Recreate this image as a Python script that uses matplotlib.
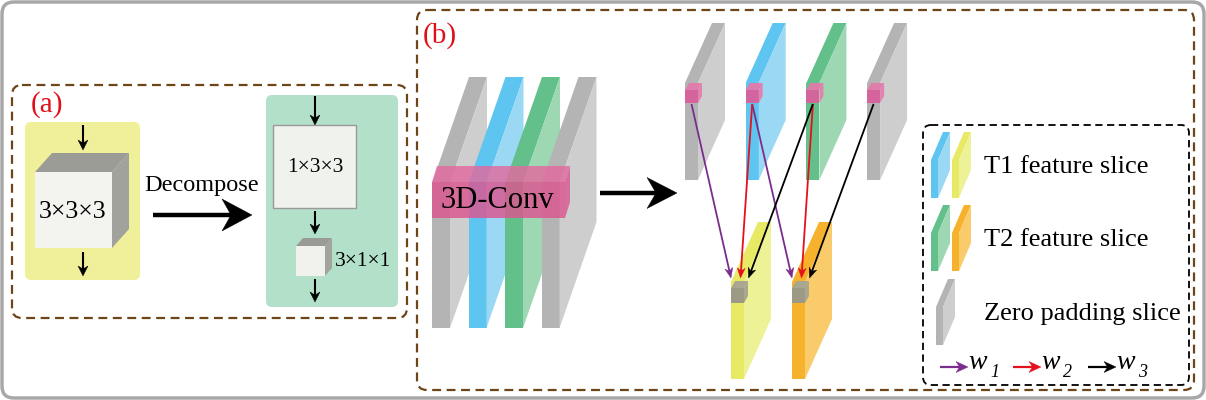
import numpy as np
import matplotlib.pyplot as plt
from matplotlib.patches import FancyBboxPatch, Polygon, Rectangle

plt.rcParams['font.family'] = ['Liberation Serif', 'DejaVu Serif']

# --- content of the figure ---
stack_slices = ['gray', 'blue', 'green', 'gray']      # input slices (left stack and top row)
out_slices = ['yellow', 'orange']                     # fused output slices
links = [(0, 0, 'w1'), (1, 1, 'w1'), (1, 0, 'w2'),
         (2, 1, 'w2'), (2, 0, 'w3'), (3, 1, 'w3')]    # (input slice, output slice, weight)
weights = ['w1', 'w2', 'w3']
weight_subs = ['1', '2', '3']
legend_labels = ['T1 feature slice', 'T2 feature slice', 'Zero padding slice']
legend_slices = [['blue', 'yellow'], ['green', 'orange'], ['gray']]
kernel_labels = ['3×3×3', '1×3×3', '3×1×1']

slice_colors = {'gray': ('#b4b4b4', '#cdcecd'), 'blue': ('#5ec4f0', '#9ad8f4'),
                'green': ('#63c08a', '#9dd8b3'), 'yellow': ('#e8ea66', '#eef297'),
                'orange': ('#f6b22c', '#f9cb6a')}
weight_colors = {'w1': '#7b2c8c', 'w2': '#e5101c', 'w3': '#000000'}
BROWN = '#6e4516'

fig = plt.figure(figsize=(12.06, 4), dpi=100)
ax = fig.add_axes([0, 0, 1, 1])
ax.set_xlim(0, 1206)
ax.set_ylim(400, 0)
ax.axis('off')


def rbox(x0, y0, x1, y1, r, **kw):
    p = FancyBboxPatch((x0, y0), x1 - x0, y1 - y0,
                       boxstyle='round,pad=0,rounding_size=%g' % r, **kw)
    ax.add_patch(p)


def slab(x, y, w, h, dx, dy, dark, light, z=2, alpha=1.0, top=None):
    # front face, top face, right face of a thin block
    top = dark if top is None else top
    ax.add_patch(Polygon([(x, y), (x + w, y), (x + w, y + h), (x, y + h)],
                         closed=True, fc=dark, ec='none', zorder=z, alpha=alpha))
    ax.add_patch(Polygon([(x, y), (x + dx, y - dy), (x + w + dx, y - dy), (x + w, y)],
                         closed=True, fc=top, ec='none', zorder=z, alpha=alpha))
    ax.add_patch(Polygon([(x + w, y), (x + w + dx, y - dy), (x + w + dx, y + h - dy), (x + w, y + h)],
                         closed=True, fc=light, ec='none', zorder=z, alpha=alpha))


def stealth(x0, y0, x1, y1, color='k', lw=1.5, hl=9, hw=9, z=5):
    d = np.array([x1 - x0, y1 - y0], float)
    d /= np.hypot(*d)
    n = np.array([-d[1], d[0]])
    tip = np.array([x1, y1], float)
    back = tip - d * hl
    notch = tip - d * hl * 0.7
    ax.plot([x0, notch[0]], [y0, notch[1]], color=color, lw=lw, zorder=z,
            solid_capstyle='butt')
    ax.add_patch(Polygon([tip, back + n * hw / 2, notch, back - n * hw / 2],
                         closed=True, fc=color, ec=color, lw=0.3, zorder=z))


# outer frame and panel frames
rbox(2, 2, 1204, 398, 12, fc='white', ec='#a8a8a8', lw=2.5, zorder=0)
rbox(12, 85, 407, 318, 10, fc='none', ec=BROWN, lw=1.6, ls=(0, (4, 2.5)), zorder=1)
rbox(417, 10, 1194, 390, 10, fc='none', ec=BROWN, lw=1.6, ls=(0, (4, 2.5)), zorder=1)
ax.text(47, 105, '(a)', color='#e0101a', fontsize=21, ha='center', va='center')
ax.text(440, 36, '(b)', color='#e0101a', fontsize=21, ha='center', va='center')

# ---------- panel (a) ----------
rbox(25, 122, 140, 280, 6, fc='#f0f09a', ec='none', zorder=1)
slab(35, 172, 77, 76, 17, 19, '#f3f4ef', '#a2a29c', top='#9c9c97')
ax.text(73, 212, kernel_labels[0], fontsize=18.5, ha='center', va='center', zorder=3)
stealth(83, 125, 83, 150, lw=1.5, hl=10, hw=10)
stealth(83, 252, 83, 276, lw=1.5, hl=10, hw=10)

ax.text(202, 185, 'Decompose', fontsize=17.5, ha='center', va='center')
stealth(153, 215, 252, 215, lw=3.2, hl=30, hw=32)

rbox(266, 95, 398, 307, 6, fc='#b3e0c9', ec='none', zorder=1)
ax.add_patch(Rectangle((273, 125), 83, 83, fc='#f0f2ee', ec='#9a9a9a', lw=1, zorder=2))
ax.text(315, 168, kernel_labels[1], fontsize=15.5, ha='center', va='center', zorder=3)
slab(296, 246, 29, 30, 7, 8, '#f1f2ee', '#a4a49e', top='#9b9b96')
ax.text(335, 261, kernel_labels[2], fontsize=15.5, ha='left', va='center', zorder=3)
stealth(315, 96, 315, 125, lw=1.5, hl=10, hw=10)
stealth(315, 211, 315, 234, lw=1.5, hl=10, hw=10)
stealth(315, 279, 315, 302, lw=1.5, hl=10, hw=10)

# ---------- panel (b): input stack with 3D conv ----------
for i, s in enumerate(stack_slices):
    dark, light = slice_colors[s]
    slab(432 + i * 36.5, 183, 18, 145, 37, 106, dark, light, z=2 + i * 0.1)
slab(432, 182, 133, 36, 5, 16, '#dc5590', '#d95a93', z=3, alpha=0.82, top='#e26a9f')
ax.text(497, 201, '3D-Conv', fontsize=22, ha='center', va='center', zorder=4)
stealth(600, 193, 677, 193, lw=3.2, hl=30, hw=31)

# top row of slices with pink kernel cubes
top_x = [685 + i * 60.7 for i in range(len(stack_slices))]
for x, s in zip(top_x, stack_slices):
    dark, light = slice_colors[s]
    slab(x, 83, 13, 97, 27, 60, dark, light, z=2)
    slab(x, 90, 13, 13, 4, 7, '#d9609b', '#e37fae', z=3, alpha=0.95, top='#e27aab')

# output slices
out_x = [731, 792]
for x, s in zip(out_x, out_slices):
    dark, light = slice_colors[s]
    slab(x, 282, 13, 97, 27, 60, dark, light, z=2)
    slab(x, 288, 13, 15, 4, 7, '#9c9a84', '#aaa790', z=3, top='#aaa790')

tip_off = {'w1': 0, 'w2': 9.5, 'w3': 17.5}
for src, dst, w in links:
    stealth(top_x[src] + 6.5, 104, out_x[dst] + tip_off[w], 278,
            color=weight_colors[w], lw=1.3, hl=10, hw=8)

# ---------- legend ----------
rbox(923, 125, 1189, 385, 8, fc='none', ec='black', lw=1.3, ls=(0, (4, 2.5)), zorder=1)
leg_y = [160, 233, 307]
for lab, sl, y in zip(legend_labels, legend_slices, leg_y):
    xs = [931, 952] if len(sl) == 2 else [936]
    for x, s in zip(xs, sl):
        dark, light = slice_colors[s]
        slab(x, y, 7, 38, 12, 28, dark, light, z=2)
    ax.text(984, y + 7, lab, fontsize=19, ha='left', va='center')

leg_ax = [940, 1013, 1088]
for x, w, sub in zip(leg_ax, weights, weight_subs):
    stealth(x, 367, x + 28, 367, color=weight_colors[w], lw=1.6, hl=12, hw=11)
    ax.text(x + 28, 369, 'w', fontsize=20, style='italic', ha='left', va='baseline')
    ax.text(x + 50, 377, sub, fontsize=13, style='italic', ha='left', va='baseline')

fig.savefig('out.png', dpi=100)
